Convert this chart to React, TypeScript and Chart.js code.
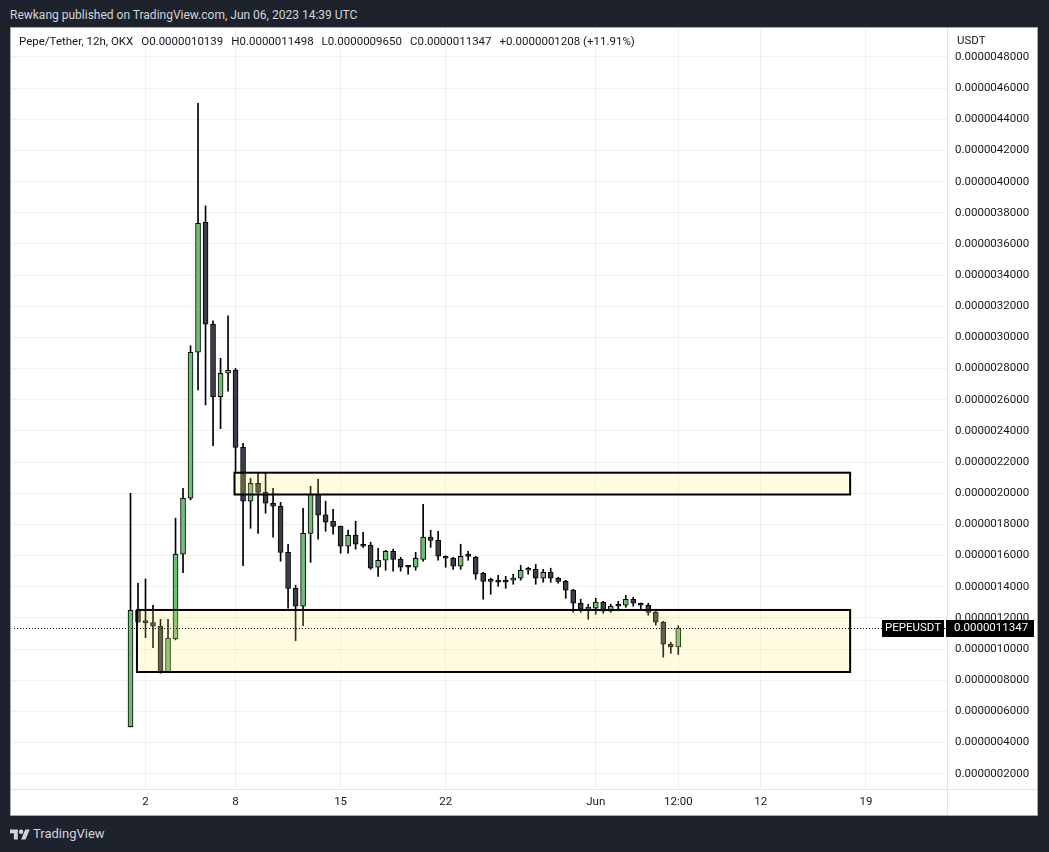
import React, { useEffect, useRef } from "react";
import { Chart, registerables } from "chart.js";

Chart.register(...registerables);

// 12h candle open times, in days after 1 May 2023 00:00 UTC
const candleTimes = [
  0, 0.5, 1, 1.5, 2, 2.5, 3, 3.5, 4, 4.5, 5, 5.5, 6, 6.5, 7, 7.5, 8, 8.5, 9, 9.5,
  10, 10.5, 11, 11.5, 12, 12.5, 13, 13.5, 14, 14.5, 15, 15.5, 16, 16.5, 17, 17.5,
  18, 18.5, 19, 19.5, 20, 20.5, 21, 21.5, 22, 22.5, 23, 23.5, 24, 24.5, 25, 25.5,
  26, 26.5, 27, 27.5, 28, 28.5, 29, 29.5, 30, 30.5, 31, 31.5, 32, 32.5, 33, 33.5,
  34, 34.5, 35, 35.5, 36, 36.5,
];

// Prices in units of 1e-7 USDT
const opens = [
  5.0, 12.49, 11.72, 11.7, 11.47, 8.53, 10.65, 16.09, 19.68, 29.05,
  37.39, 30.85, 26.2, 27.7, 27.89, 22.95, 19.49, 20.64, 20.06, 19.36,
  19.17, 16.21, 13.9, 12.75, 17.43, 19.94, 18.62, 18.2, 17.88, 16.6,
  17.3, 16.73, 16.66, 15.25, 15.7, 16.28, 15.76, 15.27, 15.25, 15.76,
  17.18, 16.98, 15.96, 15.83, 15.32, 15.96, 15.89, 14.87, 14.42, 14.42,
  14.42, 14.42, 14.55, 15.06, 15.12, 14.55, 14.93, 14.55, 14.35, 13.78,
  12.94, 12.56, 12.62, 13.01, 12.43, 12.81, 12.81, 13.2, 12.94, 12.81,
  12.36, 11.72, 10.31, 10.139,
];
const highs = [
  20.0, 14.22, 14.5, 12.81, 11.91, 11.91, 18.4, 20.32, 29.47, 45.03,
  38.44, 31.06, 28.66, 31.38, 28.02, 23.21, 20.96, 21.28, 21.28, 20.32,
  19.42, 16.73, 14.1, 19.04, 20.45, 20.9, 19.49, 18.97, 17.9, 17.63,
  18.2, 17.5, 16.86, 16.47, 16.34, 16.41, 15.89, 15.38, 16.21, 19.29,
  17.63, 17.56, 15.98, 15.89, 16.73, 16.28, 15.96, 14.93, 14.55, 14.74,
  14.67, 14.8, 15.38, 15.25, 15.44, 15.12, 15.19, 14.61, 14.42, 13.84,
  13.2, 12.88, 13.26, 13.07, 12.88, 13.07, 13.45, 13.33, 12.96, 12.94,
  12.43, 11.78, 10.44, 11.498,
];
const lows = [
  5.0, 11.72, 10.73, 10.09, 8.45, 8.5, 10.59, 14.9, 19.57, 26.63,
  25.67, 23.05, 24.15, 26.56, 21.4, 15.35, 17.75, 17.43, 18.72, 17.18,
  15.64, 12.62, 10.54, 11.5, 15.57, 17.05, 17.56, 17.37, 16.15, 16.15,
  16.41, 16.53, 15.12, 14.67, 15.06, 15.0, 15.0, 14.8, 15.06, 15.64,
  16.53, 15.7, 15.25, 15.12, 15.12, 15.7, 14.48, 13.2, 13.52, 14.03,
  13.9, 14.16, 14.42, 14.8, 14.16, 14.29, 14.29, 14.23, 13.26, 12.36,
  12.36, 11.91, 12.24, 12.3, 12.36, 12.56, 12.68, 12.75, 12.56, 12.17,
  11.53, 9.48, 9.73, 9.65,
];
const closes = [
  12.49, 11.72, 11.7, 11.47, 8.53, 10.7, 16.09, 19.68, 29.05, 37.33,
  30.85, 26.2, 27.7, 27.89, 22.95, 19.49, 20.64, 20.06, 19.36, 19.17,
  16.21, 13.9, 12.75, 17.43, 19.94, 18.59, 18.14, 17.88, 16.6, 17.3,
  16.73, 16.6, 15.19, 15.7, 16.28, 15.76, 15.25, 15.25, 15.83, 17.18,
  16.98, 15.96, 15.83, 15.32, 15.96, 15.95, 14.8, 14.35, 14.35, 14.29,
  14.29, 14.55, 15.06, 15.12, 14.55, 14.93, 14.55, 14.35, 13.78, 12.94,
  12.56, 12.62, 13.01, 12.43, 12.75, 12.75, 13.2, 12.94, 12.81, 12.36,
  11.72, 10.31, 10.139, 11.347,
];

// Rectangle zones drawn on the chart (time in days, price in 1e-7 USDT)
const zoneStarts = [6.93, 0.43];
const zoneEnds = [47.95, 47.95];
const zoneTops = [21.32, 12.51];
const zoneBottoms = [19.92, 8.53];

const lastPrice = 11.347;
const symbolLabel = "PEPEUSDT";

// Axis ticks
const xTickValues = [1, 7, 14, 21, 31, 36.5, 42, 49];
const xTickLabels = ["2", "8", "15", "22", "Jun", "12:00", "12", "19"];
const yTickValues = [
  2, 4, 6, 8, 10, 12, 14, 16, 18, 20, 22, 24, 26, 28, 30, 32, 34, 36, 38, 40,
  42, 44, 46, 48,
];

const legendParts = [
  "Pepe/Tether, 12h, OKX",
  "O0.0000010139",
  "H0.0000011498",
  "L0.0000009650",
  "C0.0000011347",
  "+0.0000001208 (+11.91%)",
];

const FONT = "Roboto, 'Liberation Sans', sans-serif";
const GREEN = "#70bd74";
const DARK = "#3b3e49";
const GRID = "rgba(42,46,57,0.07)";
const TEXT = "#131722";

const fmtPrice = (v: number) => (v * 1e-7).toFixed(10);

export default function App() {
  const canvasRef = useRef<HTMLCanvasElement | null>(null);

  useEffect(() => {
    const canvas = canvasRef.current;
    if (!canvas) return;

    const bodyData = candleTimes.map((t, i) => ({ x: t, y: [opens[i], closes[i]] }));
    const wickData = candleTimes.map((t, i) => ({ x: t, y: [lows[i], highs[i]] }));
    const bodyColors = candleTimes.map((_, i) => (closes[i] >= opens[i] ? GREEN : DARK));

    const overlay = {
      id: "overlay",
      afterDatasetsDraw(chart: any) {
        const { ctx, chartArea, scales } = chart;
        const xs = scales.x;
        const ys = scales.y;
        ctx.save();
        ctx.beginPath();
        ctx.rect(chartArea.left, chartArea.top, chartArea.right - chartArea.left, chartArea.bottom - chartArea.top);
        ctx.clip();
        for (let i = 0; i < zoneStarts.length; i++) {
          const x1 = xs.getPixelForValue(zoneStarts[i]);
          const x2 = xs.getPixelForValue(zoneEnds[i]);
          const y1 = ys.getPixelForValue(zoneTops[i]);
          const y2 = ys.getPixelForValue(zoneBottoms[i]);
          ctx.fillStyle = "rgba(255, 240, 110, 0.2)";
          ctx.fillRect(x1, y1, x2 - x1, y2 - y1);
          ctx.strokeStyle = "#000";
          ctx.lineWidth = 2;
          ctx.strokeRect(x1, y1, x2 - x1, y2 - y1);
        }
        // last price dotted line
        const py = Math.round(ys.getPixelForValue(lastPrice)) + 0.5;
        ctx.setLineDash([1, 2]);
        ctx.lineWidth = 1;
        ctx.strokeStyle = "#000";
        ctx.beginPath();
        ctx.moveTo(chartArea.left + 3, py);
        ctx.lineTo(chartArea.right, py);
        ctx.stroke();
        ctx.restore();
      },
      afterDraw(chart: any) {
        const { ctx, chartArea, scales, width, height } = chart;
        const ys = scales.y;
        ctx.save();
        // pane separators
        ctx.strokeStyle = "#e0e3eb";
        ctx.lineWidth = 1;
        ctx.beginPath();
        const rx = Math.round(chartArea.right) + 0.5;
        ctx.moveTo(rx, 0);
        ctx.lineTo(rx, height);
        const by = Math.round(chartArea.bottom) + 0.5;
        ctx.moveTo(0, by);
        ctx.lineTo(width, by);
        ctx.stroke();

        // last price labels
        const py = Math.round(ys.getPixelForValue(lastPrice));
        ctx.fillStyle = "#000";
        ctx.fillRect(chartArea.right - 65, py - 8, 62, 17);
        ctx.fillRect(chartArea.right - 1, py - 8, 88, 17);
        ctx.fillStyle = "#fff";
        ctx.font = `11.5px ${FONT}`;
        ctx.textBaseline = "middle";
        ctx.textAlign = "center";
        ctx.fillText(symbolLabel, chartArea.right - 34, py + 0.5);
        ctx.textAlign = "left";
        ctx.fillText(fmtPrice(lastPrice), chartArea.right + 7, py + 0.5);
        ctx.restore();
      },
    };

    const chart = new Chart(canvas, {
      type: "bar",
      data: {
        datasets: [
          {
            data: wickData as any,
            backgroundColor: "#000",
            borderWidth: 0,
            barThickness: 1,
            grouped: false,
            order: 2,
          } as any,
          {
            data: bodyData as any,
            backgroundColor: bodyColors,
            borderColor: "#000",
            borderWidth: 1,
            borderSkipped: false,
            barThickness: 5,
            minBarLength: 2,
            grouped: false,
            order: 1,
          } as any,
        ],
      },
      options: {
        responsive: false,
        animation: false,
        layout: { padding: 0, autoPadding: false } as any,
        plugins: {
          legend: { display: false },
          tooltip: { enabled: false },
        },
        scales: {
          x: {
            type: "linear",
            min: -7.9624,
            max: 54.4046,
            offset: false,
            grid: { color: GRID, drawTicks: false, offset: false } as any,
            border: { display: false },
            ticks: {
              autoSkip: false,
              maxRotation: 0,
              padding: 6,
              color: TEXT,
              font: { family: FONT, size: 11.5 },
              callback: (_v: any, i: number) => xTickLabels[i] ?? "",
            },
            afterBuildTicks: (s: any) => {
              s.ticks = xTickValues.map((v) => ({ value: v }));
            },
            afterFit: (s: any) => {
              s.height = 26;
              s.paddingLeft = 0;
              s.paddingRight = 0;
            },
          } as any,
          y: {
            type: "linear",
            position: "right",
            min: 1.02,
            max: 49.86,
            grid: { color: GRID, drawTicks: false },
            border: { display: false },
            ticks: {
              padding: 8,
              color: TEXT,
              font: { family: FONT, size: 11.5 },
              callback: (v: any) => fmtPrice(Number(v)),
            },
            afterBuildTicks: (s: any) => {
              s.ticks = yTickValues.map((v) => ({ value: v }));
            },
            afterFit: (s: any) => {
              s.width = 90;
              s.paddingTop = 0;
              s.paddingBottom = 0;
            },
          } as any,
        },
      },
      plugins: [overlay],
    });

    return () => chart.destroy();
  }, []);

  return (
    <div
      style={{
        position: "fixed",
        left: 0,
        top: 0,
        width: 1049,
        height: 852,
        background: "#1e222d",
        overflow: "hidden",
        fontFamily: FONT,
      }}
    >
      <div
        style={{
          position: "absolute",
          left: 10,
          top: 8,
          fontSize: 12,
          lineHeight: "14px",
          color: "#d1d4dc",
          whiteSpace: "nowrap",
        }}
      >
        Rewkang published on TradingView.com, Jun 06, 2023 14:39 UTC
      </div>
      <div
        style={{
          position: "absolute",
          left: 10,
          top: 27,
          width: 1028,
          height: 789,
          boxSizing: "border-box",
          border: "1px solid #a3a6af",
          background: "#ffffff",
        }}
      />
      <canvas
        ref={canvasRef}
        width={1026}
        height={787}
        style={{ position: "absolute", left: 11, top: 28, width: 1026, height: 787 }}
      />
      <div
        style={{
          position: "absolute",
          left: 19,
          top: 34,
          display: "flex",
          fontSize: 11.5,
          lineHeight: "14px",
          color: TEXT,
          whiteSpace: "nowrap",
        }}
      >
        {legendParts.map((p, i) => (
          <span key={i} style={{ marginRight: 8 }}>
            {p}
          </span>
        ))}
      </div>
      <div
        style={{
          position: "absolute",
          left: 957,
          top: 33,
          fontSize: 11.5,
          lineHeight: "14px",
          color: TEXT,
        }}
      >
        USDT
      </div>
      <svg
        style={{ position: "absolute", left: 10, top: 827 }}
        width={20}
        height={16}
        viewBox="0 0 36 28"
      >
        <path d="M14 22H7V11H0V4h14v18zM28 22h-8l7.5-18h8L28 22z" fill="#d1d4dc" />
        <circle cx="20" cy="8" r="4" fill="#d1d4dc" />
      </svg>
      <div
        style={{
          position: "absolute",
          left: 33,
          top: 826,
          fontSize: 13,
          lineHeight: "16px",
          color: "#d1d4dc",
          whiteSpace: "nowrap",
        }}
      >
        TradingView
      </div>
    </div>
  );
}
